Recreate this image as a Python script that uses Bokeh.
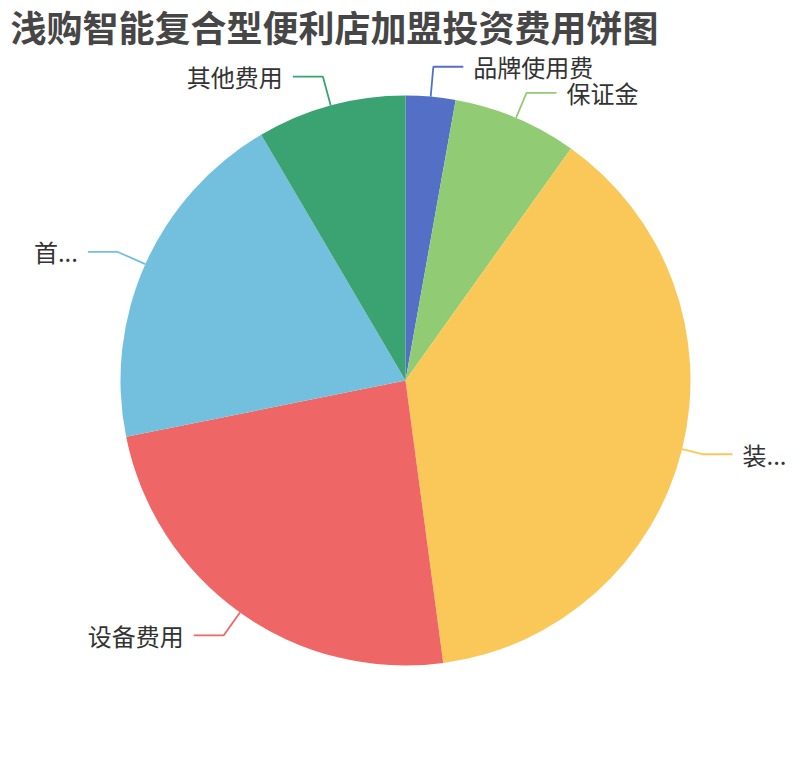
import numpy as np
from bokeh.plotting import figure
from bokeh.models import Range1d, ColumnDataSource
from bokeh.core.properties import value
from bokeh.embed import file_html
from bokeh.resources import INLINE

title_text = "浅购智能复合型便利店加盟投资费用饼图"
categories = ["品牌使用费", "保证金", "装修费用", "设备费用", "首批进货费", "其他费用"]
values = [1.0, 2.5, 13.5, 8.5, 7.0, 3.0]
shown_labels = ["品牌使用费", "保证金", "装...", "设备费用", "首...", "其他费用"]
colors = ["#5470c6", "#91cc75", "#fac858", "#ee6666", "#73c0de", "#3ba272"]

# layout (picture-pixel based; y measured upward from picture bottom 760)
W, H = 794, 744
CX, CY = 405, 760 - 380
R = 285
line_len1 = [30, 27, 21, 28, 30, 30]
line_len2 = 30
gap = 10
FONT = "Noto Sans CJK SC"

vals = np.array(values)
frac = vals / vals.sum()
cum_end = np.cumsum(frac)
cum_start = cum_end - frac
start_angle = np.pi / 2 - cum_start * 2 * np.pi
end_angle = np.pi / 2 - cum_end * 2 * np.pi
mid = (start_angle + end_angle) / 2

p = figure(width=W, height=H, x_range=Range1d(0, W), y_range=Range1d(760 - H, 760),
           output_backend="svg", toolbar_location=None,
           x_axis_location=None, y_axis_location=None, min_border=0)
p.grid.visible = False
p.outline_line_color = None
p.background_fill_color = "white"
p.border_fill_color = "white"

src = ColumnDataSource(dict(cat=categories, start=start_angle, end=end_angle, color=colors))
p.wedge(x=CX, y=CY, radius=R, radius_units="screen", start_angle="start", end_angle="end",
        direction="clock", fill_color="color", line_color=None, source=src)

# label lines and labels
xs, ys, tx_r, ty_r, lab_r, tx_l, ty_l, lab_l = [], [], [], [], [], [], [], []
for i in range(len(values)):
    a = mid[i]
    x0, y0 = CX + R * np.cos(a), CY + R * np.sin(a)
    x1, y1 = CX + (R + line_len1[i]) * np.cos(a), CY + (R + line_len1[i]) * np.sin(a)
    right = np.cos(a) >= 0
    x2 = x1 + (line_len2 if right else -line_len2)
    xs.append([x0, x1, x2])
    ys.append([y0, y1, y1])
    if right:
        tx_r.append(x2 + gap); ty_r.append(y1); lab_r.append(shown_labels[i])
    else:
        tx_l.append(x2 - gap); ty_l.append(y1); lab_l.append(shown_labels[i])

p.multi_line(xs=xs, ys=ys, line_color=colors, line_width=1.8)
p.text(x=tx_r, y=ty_r, text=lab_r, text_font=value(FONT), text_font_size="24px",
       text_color="#333333", text_align="left", text_baseline="middle")
p.text(x=tx_l, y=ty_l, text=lab_l, text_font=value(FONT), text_font_size="24px",
       text_color="#333333", text_align="right", text_baseline="middle")

p.text(x=[10], y=[760 - 25], text=[title_text], text_font=value(FONT), text_font_size="36px",
       text_font_style="bold", text_color="#464646", text_align="left", text_baseline="middle")

open("out.html", "w").write(file_html(p, INLINE))
